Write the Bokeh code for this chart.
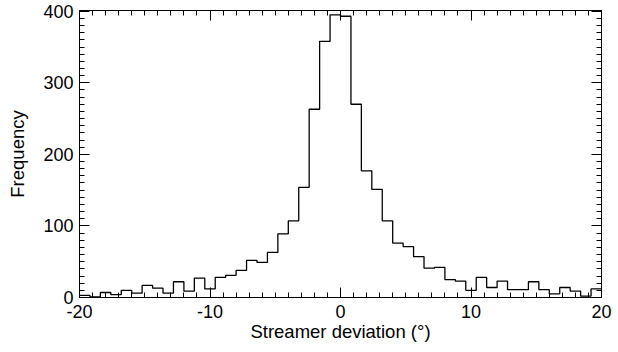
import numpy as np
from bokeh.plotting import figure
from bokeh.models import Range1d, SingleIntervalTicker, LinearAxis, CustomLabelingPolicy
from bokeh.embed import file_html
from bokeh.resources import INLINE

# Histogram of streamer deviation (degrees), bin width 0.8 from -20 to 20
bin_start = -20.0
bin_width = 0.8
counts = [3, 1, 7, 4, 10, 6, 17, 13, 6, 22,
          9, 27, 12, 28, 31, 38, 52, 49, 63, 89,
          107, 154, 263, 358, 395, 393, 270, 177, 151, 107,
          76, 71, 57, 41, 42, 25, 23, 10, 28, 14,
          23, 11, 11, 22, 11, 5, 14, 9, 2, 12]
x_ticks = [-20, -10, 0, 10, 20]
x_tick_labels = ["-20", "-10", "0", "10", "20"]
x_label = "Streamer deviation (°)"
y_label = "Frequency"

edges = np.round(bin_start + bin_width * np.arange(len(counts) + 1), 2)
ys = np.append(counts, counts[-1])

FONT = "Liberation Sans"
FS = "18px"

p = figure(width=618, height=352, output_backend="svg", toolbar_location=None,
           x_range=Range1d(-20, 20), y_range=Range1d(0, 401),
           min_border_left=79, min_border_right=17, min_border_top=10, min_border_bottom=55)
p.background_fill_color = "white"
p.border_fill_color = "white"
p.outline_line_color = "black"
p.outline_line_width = 1
p.grid.visible = False

p.step(x=edges, y=ys, mode="after", line_color="black", line_width=1.3)

p.xaxis.ticker = SingleIntervalTicker(interval=10, num_minor_ticks=10)
p.yaxis.ticker = SingleIntervalTicker(interval=100, num_minor_ticks=10)

def style(ax):
    ax.axis_line_color = "black"
    ax.major_tick_line_color = "black"
    ax.minor_tick_line_color = "black"
    ax.major_tick_in = 10
    ax.major_tick_out = 0
    ax.minor_tick_in = 5
    ax.minor_tick_out = 0
    ax.major_label_text_font = FONT
    ax.major_label_text_color = "black"
    ax.major_label_text_font_size = FS
    ax.axis_label_text_font = FONT
    ax.axis_label_text_font_style = "normal"
    ax.axis_label_text_color = "black"
    ax.axis_label_text_font_size = "18.5px"

style(p.xaxis[0])
style(p.yaxis[0])
p.xaxis.axis_label = x_label
p.yaxis.axis_label = y_label
p.xaxis.major_label_overrides = dict(zip(x_ticks, x_tick_labels))
p.xaxis.major_label_standoff = 7
p.yaxis.major_label_standoff = 6
p.xaxis.axis_label_standoff = 0
p.yaxis.axis_label_standoff = 12

hide_all = CustomLabelingPolicy(code="""
const ids = [...indices];
for (const i of ids) { indices.unset(i); }
return indices;
""")

top = LinearAxis(ticker=SingleIntervalTicker(interval=10, num_minor_ticks=10))
right = LinearAxis(ticker=SingleIntervalTicker(interval=100, num_minor_ticks=10))
for ax in (top, right):
    style(ax)
    ax.major_label_policy = hide_all
    ax.major_label_text_font_size = "0px"
    ax.major_label_standoff = 0
p.add_layout(top, "above")
p.add_layout(right, "right")

open("out.html", "w").write(file_html(p, INLINE))
